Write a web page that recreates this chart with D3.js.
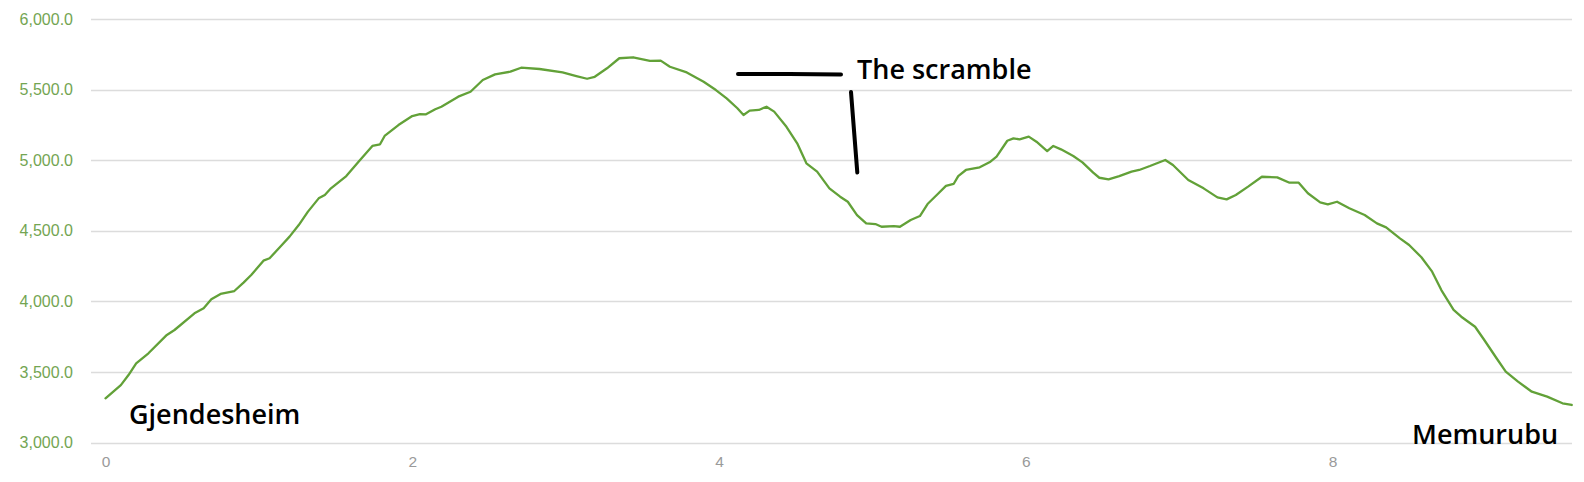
<!DOCTYPE html>
<html>
<head>
<meta charset="utf-8">
<script src="https://cdn.jsdelivr.net/npm/d3@7"></script>
<style>
  html, body { margin: 0; padding: 0; background: #fff; }
  svg { display: block; }
</style>
</head>
<body>
<svg id="chart" width="1584" height="482"></svg>
<script>
// Distance along the trail (x) and elevation in feet (y)
const distance = [0.00,0.10,0.15,0.20,0.28,0.40,0.45,0.58,0.64,0.69,0.75,0.84,0.90,0.95,1.03,1.07,1.15,1.20,1.26,1.32,1.39,1.43,1.47,1.57,1.65,1.74,1.79,1.82,1.91,2.00,2.05,2.09,2.15,2.19,2.30,2.38,2.46,2.54,2.64,2.71,2.83,2.98,3.07,3.14,3.19,3.27,3.35,3.44,3.55,3.62,3.68,3.79,3.90,3.98,4.05,4.12,4.16,4.20,4.26,4.31,4.36,4.44,4.51,4.57,4.64,4.72,4.79,4.84,4.90,4.96,5.02,5.06,5.14,5.18,5.25,5.31,5.36,5.42,5.48,5.53,5.56,5.61,5.70,5.77,5.81,5.88,5.92,5.96,6.02,6.07,6.14,6.18,6.23,6.31,6.37,6.44,6.48,6.54,6.61,6.69,6.74,6.81,6.91,6.96,7.06,7.16,7.25,7.31,7.37,7.45,7.54,7.64,7.72,7.78,7.84,7.92,7.97,8.03,8.11,8.21,8.29,8.35,8.44,8.50,8.58,8.65,8.71,8.79,8.84,8.93,8.99,9.07,9.13,9.21,9.30,9.40,9.50,9.56];
const elevation = [3314,3408,3479,3562,3633,3763,3798,3916,3952,4015,4053,4074,4133,4187,4289,4306,4400,4459,4541,4636,4730,4754,4801,4888,4990,5101,5113,5172,5249,5313,5327,5325,5361,5379,5450,5485,5568,5608,5627,5655,5646,5622,5596,5577,5591,5651,5722,5729,5703,5705,5662,5622,5556,5497,5438,5368,5320,5351,5356,5379,5344,5237,5120,4978,4919,4801,4742,4706,4612,4553,4548,4529,4534,4529,4577,4605,4690,4754,4818,4832,4888,4931,4950,4990,5025,5138,5155,5148,5167,5131,5065,5101,5077,5030,4985,4912,4876,4865,4888,4919,4931,4959,5002,4966,4860,4801,4737,4723,4754,4813,4883,4879,4841,4841,4766,4702,4688,4706,4660,4612,4553,4525,4447,4400,4313,4211,4081,3940,3892,3821,3727,3598,3503,3432,3361,3326,3279,3267];
const yTicks = [3000,3500,4000,4500,5000,5500,6000];
const xTicks = [0,2,4,6,8];
const placeLabels = ["Gjendesheim","Memurubu"];
const noteLabel = "The scramble";

const svg = d3.select("#chart");
const x = d3.scaleLinear().domain([0, 9.56]).range([105.5, 1571.7]);
const y = d3.scaleLinear().domain([3000, 6000]).range([442.7, 19]);
const gridLeft = 91, gridRight = 1572;

// Gridlines
svg.append("g").selectAll("line").data(yTicks).join("line")
  .attr("x1", gridLeft).attr("x2", gridRight)
  .attr("y1", d => Math.round(y(d)) + 0.5).attr("y2", d => Math.round(y(d)) + 0.5)
  .attr("stroke", "#dcdcdc").attr("stroke-width", 1.3);

// Y axis labels
const yAxis = d3.axisLeft(y).tickValues(yTicks).tickSize(0).tickPadding(0)
  .tickFormat(d3.format(",.1f"));
const gy = svg.append("g").attr("transform", "translate(73,0)").call(yAxis);
gy.select(".domain").remove();
gy.selectAll("text").attr("fill", "#73a552")
  .style("font-family", "'Liberation Sans', Arial, sans-serif").style("font-size", "16px");

// X axis labels
const xAxis = d3.axisBottom(x).tickValues(xTicks).tickSize(0).tickPadding(0)
  .tickFormat(d3.format("d"));
const gx = svg.append("g").attr("transform", "translate(0,455.5)").call(xAxis);
gx.select(".domain").remove();
gx.selectAll("text").attr("fill", "#9a9a9a").attr("dy", "0.71em")
  .style("font-family", "'Liberation Sans', Arial, sans-serif").style("font-size", "15.5px");

// Elevation line
const pts = distance.map((d, i) => [d, elevation[i]]);
svg.append("path").datum(pts)
  .attr("fill", "none").attr("stroke", "#62a138").attr("stroke-width", 2.3)
  .attr("stroke-linejoin", "round").attr("stroke-linecap", "round")
  .attr("d", d3.line().x(d => x(d[0])).y(d => y(d[1])));

// Annotations
const annoFont = "'Open Sans', 'Noto Sans', sans-serif";
svg.append("text").attr("x", 129).attr("y", 424).text(placeLabels[0])
  .attr("fill", "#000").style("font-family", annoFont).style("font-weight", 600).style("font-size", "27px");
svg.append("text").attr("x", 1412).attr("y", 444).text(placeLabels[1])
  .attr("fill", "#000").style("font-family", annoFont).style("font-weight", 600).style("font-size", "27px");
svg.append("text").attr("x", 857).attr("y", 78.5).text(noteLabel)
  .attr("fill", "#000").style("font-family", annoFont).style("font-weight", 600).style("font-size", "27px");

svg.append("path").attr("d", "M738,74 L789,74 L841,74.6")
  .attr("fill", "none").attr("stroke", "#000").attr("stroke-width", 4).attr("stroke-linecap", "round");
svg.append("path").attr("d", "M851,92 L857.3,172.5")
  .attr("fill", "none").attr("stroke", "#000").attr("stroke-width", 4).attr("stroke-linecap", "round");
</script>
</body>
</html>
